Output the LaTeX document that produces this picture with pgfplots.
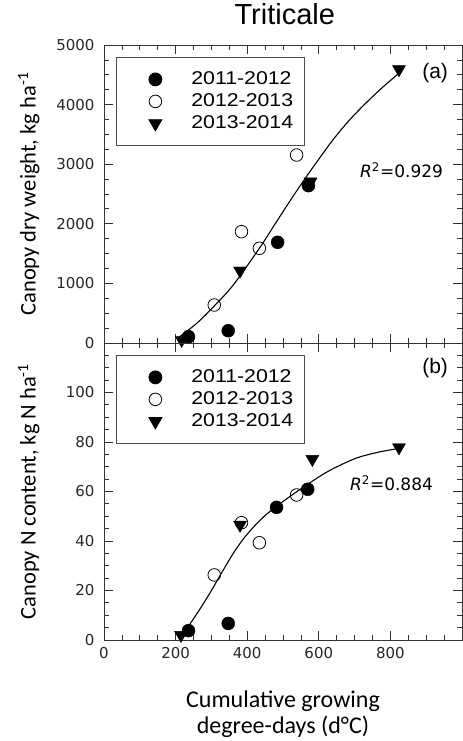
\documentclass[border=0pt]{standalone}
\usepackage{pgfplots}
\pgfplotsset{compat=1.18}
\usepackage{fontspec}
\setmainfont{Carlito}
\newfontfamily\tickfont{DejaVu Sans}
\newfontfamily\arialfont{Liberation Sans}
\newfontfamily\legfont{Liberation Sans}[FakeStretch=1.15]

\pgfplotstableread{
x y
236 106
347 206
485 1690
571 2640
}\dwA
\pgfplotstableread{
x y
308 637
384 1868
434 1589
538 3154
}\dwB
\pgfplotstableread{
x y
217 50
380 1213
577 2707
824 4592
}\dwC
\pgfplotstableread{
x y
205 78
259 330
308 621
361 973
434 1589
482 2036
529 2470
571 2840
603 3110
641 3420
687 3750
734 4040
780 4300
824 4526
}\dwFit
\pgfplotstableread{
x y
236 3.8
347 6.7
482 53.6
569 60.9
}\nA
\pgfplotstableread{
x y
308 26.3
384 47.4
434 39.3
538 58.6
}\nB
\pgfplotstableread{
x y
215 2
380 46.5
582 73.1
824 77.8
}\nC
\pgfplotstableread{
x y
222 2.7
259 10.5
296 19.0
330 27.5
361 35.0
390 41.0
420 46.0
450 50.3
482 54.0
510 57.0
538 59.9
575 63.5
610 66.8
641 69.3
680 72.0
715 74.0
770 76.0
824 77.4
}\nFit

\pgfplotsset{
  panel/.style={
    scale only axis, width=358bp, height=298bp,
    xmin=0, xmax=1000, xtick={0,200,...,1000},
    minor x tick num=3, minor y tick num=3,
    major tick length=9bp, minor tick length=5bp,
    tick align=inside,
    axis line style={black!80, line width=0.8bp},
    every tick/.style={black!80, line width=0.8bp},
    /pgf/number format/assume math mode=true,
    /pgf/number format/1000 sep={},
    scaled ticks=false,
    ticklabel style={font=\tickfont\fontsize{15bp}{18bp}\selectfont, text=black!85},
    yticklabel style={xshift=-6bp},
    xticklabel style={yshift=-4bp},
    ylabel style={font=\fontsize{22.5bp}{26bp}\selectfont, at={(axis description cs:-0.21,0.5)}, anchor=center},
    legend style={
      at={(axis description cs:0.0335,0.9597)}, anchor=north west,
      draw=black!70, line width=0.8bp,
      font=\legfont\fontsize{18.5bp}{22bp}\selectfont,
      inner xsep=4bp, inner ysep=11bp,
      nodes={text height=13bp, text depth=3bp, inner ysep=3bp, inner xsep=7bp},
      row sep=0bp,
    },
    legend cell align=left,
    legend image code/.code={\path[draw=none, fill=none] (0bp,-5bp) rectangle (64bp,5bp); \draw[mark repeat=2,mark phase=2,#1] plot coordinates {(0bp,0bp)(35bp,0bp)(64bp,0bp)};},
    mA/.style={only marks, mark=*, mark size=6.5bp, mark options={fill=black, draw=black}},
    mB/.style={only marks, mark=o, mark size=6.3bp, mark options={draw=black, line width=0.8bp}},
    mC/.style={only marks, mark=triangle*, mark size=7.5bp, mark options={fill=black, draw=black, rotate=180}},
  }
}

\begin{document}
\begin{tikzpicture}
\useasboundingbox (0bp,0bp) rectangle (463bp,-741bp);
\begin{axis}[panel,
  at={(104bp,-45bp)}, anchor=north west,
  ymin=0, ymax=5000, ytick={0,1000,...,5000},
  xticklabels={},
  ylabel={Canopy dry weight, kg ha\textsuperscript{-1}},
  title={Triticale},
  title style={font=\arialfont\fontsize{29bp}{34bp}\selectfont, at={(axis description cs:0.505,1)}, anchor=base, yshift=15bp},
]
\addplot[black, line width=1.1bp, smooth, forget plot] table {\dwFit};
\addplot[mA] table {\dwA};
\addplot[mB] table {\dwB};
\addplot[mC] table {\dwC};
\legend{2011-2012,2012-2013,2013-2014}
\node[anchor=center, font=\arialfont\fontsize{21bp}{25bp}\selectfont] at (axis description cs:0.925,0.905) {(a)};
\node[anchor=west, font=\tickfont\fontsize{17bp}{20bp}\selectfont, inner sep=0pt] at (axis cs:715,2903) {\textit{R}\textsuperscript{2}=0.929};
\end{axis}
\begin{axis}[panel,
  at={(104bp,-343bp)}, anchor=north west,
  height=297bp,
  ymin=0, ymax=120, ytick={0,20,...,120},
  yticklabels={0,20,40,60,80,100,{}},
  xticklabels={0,200,400,600,800,{}},
  ylabel={Canopy N content, kg N ha\textsuperscript{-1}},
  xlabel={Cumulative growing\\degree-days (d°C)},
  xlabel style={align=center, font=\fontsize{24bp}{26bp}\selectfont, at={(axis description cs:0.5,0)}, anchor=north, yshift=-47bp},
]
\addplot[black, line width=1.1bp, smooth, forget plot] table {\nFit};
\addplot[mA] table {\nA};
\addplot[mB] table {\nB};
\addplot[mC] table {\nC};
\legend{2011-2012,2012-2013,2013-2014}
\node[anchor=center, font=\arialfont\fontsize{21bp}{25bp}\selectfont] at (axis description cs:0.925,0.915) {(b)};
\node[anchor=west, font=\tickfont\fontsize{17bp}{20bp}\selectfont, inner sep=0pt] at (axis cs:687,63.4) {\textit{R}\textsuperscript{2}=0.884};
\end{axis}
\end{tikzpicture}
\end{document}
